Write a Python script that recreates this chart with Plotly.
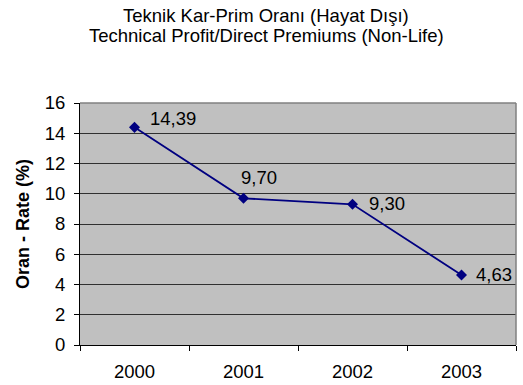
import plotly.graph_objects as go

years = ["2000", "2001", "2002", "2003"]
rates = [14.39, 9.70, 9.30, 4.63]
y_ticks = [0, 2, 4, 6, 8, 10, 12, 14, 16]
title_lines = ["Teknik Kar-Prim Oranı (Hayat Dışı)",
               "Technical Profit/Direct Premiums (Non-Life)"]
# label offsets (px) relative to each marker
label_dx = [38, 15, 34, 32]
label_dy = [9, 21, 1, 0]

FONT = "Liberation Sans, Arial, sans-serif"
FS = 18.5

W, H = 523, 385
M_L, M_R, M_T, M_B = 80, 7, 103, 40
PLOT_W = W - M_L - M_R
PLOT_H = H - M_T - M_B

fig = go.Figure()
fig.add_trace(go.Scatter(
    x=years, y=rates, mode="lines+markers",
    line=dict(color="#000080", width=1.8),
    marker=dict(symbol="diamond", size=8.5, color="#000080"),
    showlegend=False, hoverinfo="skip",
))

# value labels beside each point (category index positions)
for i, (v, dx, dy) in enumerate(zip(rates, label_dx, label_dy)):
    fig.add_annotation(
        x=i, y=v, xref="x", yref="y",
        text=f"{v:.2f}".replace(".", ","), showarrow=False,
        xanchor="center", yanchor="middle", xshift=dx, yshift=dy,
        font=dict(family=FONT, size=FS, color="#000000"),
    )

# two-line heading, positioned in pixels from the top of the figure
for line, py in zip(title_lines, [15, 35]):
    fig.add_annotation(
        x=(266 - M_L) / PLOT_W, y=(H - M_B - py) / PLOT_H,
        xref="paper", yref="paper",
        text=line, showarrow=False, xanchor="center", yanchor="middle",
        font=dict(family=FONT, size=FS, color="#000000"),
    )

# grey top/right frame of the plot area
fig.add_shape(type="line", xref="paper", yref="paper", x0=0, x1=1, y0=1, y1=1,
              line=dict(color="#808080", width=1.5), layer="above")
fig.add_shape(type="line", xref="paper", yref="paper", x0=1, x1=1, y0=0, y1=1,
              line=dict(color="#808080", width=1.5), layer="above")

fig.update_layout(
    width=W, height=H,
    margin=dict(l=M_L, r=M_R, t=M_T, b=M_B),
    paper_bgcolor="#FFFFFF", plot_bgcolor="#C0C0C0",
    font=dict(family=FONT, size=FS, color="#000000"),
    xaxis=dict(
        type="category", range=[-0.5, 3.5], tickson="boundaries",
        ticks="outside", ticklen=5, tickcolor="#000000", tickwidth=1,
        ticklabelstandoff=10, automargin=False,
        showline=True, linecolor="#000000", linewidth=1,
        showgrid=False, zeroline=False, fixedrange=True,
        tickfont=dict(family=FONT, size=FS),
    ),
    yaxis=dict(
        range=[0, 16], tickvals=y_ticks, ticktext=[str(t) for t in y_ticks],
        ticks="outside", ticklen=5, tickcolor="#000000", tickwidth=1,
        ticklabelstandoff=5, automargin=False,
        showline=True, linecolor="#000000", linewidth=1,
        showgrid=True, gridcolor="#303030", gridwidth=1,
        zeroline=False, fixedrange=True,
        tickfont=dict(family=FONT, size=FS),
        title=dict(text="<b>Oran - Rate (%)</b>", standoff=10,
                   font=dict(family=FONT, size=18)),
    ),
)

fig.write_html("out.html")
